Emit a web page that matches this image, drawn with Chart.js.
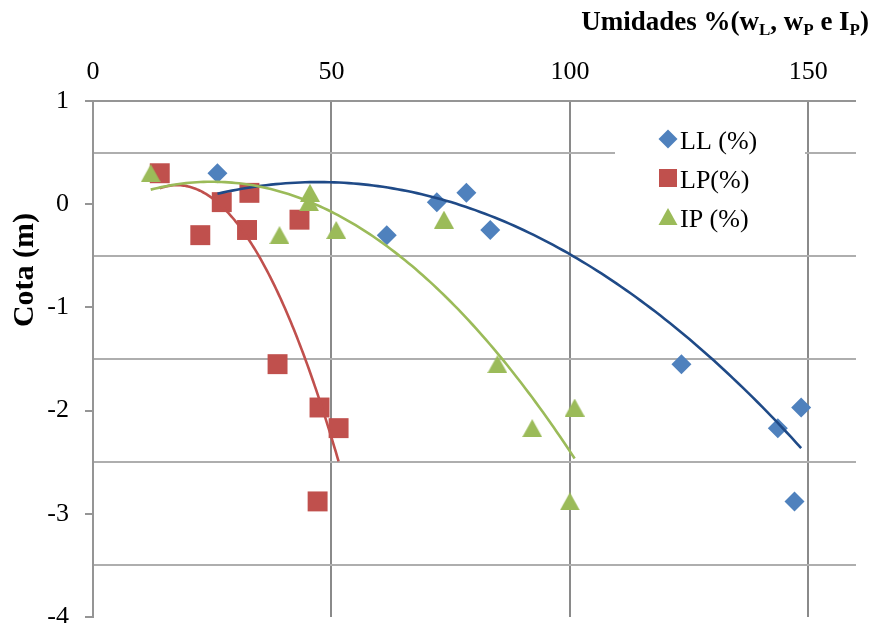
<!DOCTYPE html>
<html>
<head>
<meta charset="utf-8">
<script src="https://cdn.jsdelivr.net/npm/chart.js@4.4.1/dist/chart.umd.min.js"></script>
<style>
  html, body { margin: 0; padding: 0; background: #ffffff; }
  canvas { display: block; }
</style>
</head>
<body>
<canvas id="chart" width="874" height="623"></canvas>
<script>
// Sample depths (m) and the three consistency indices (%) measured at each depth
const depths   = [0.30, 0.11, 0.02, -0.15, -0.25, -0.30, -1.55, -1.97, -2.17, -2.88];
const llValues = [26.1, 78.3, 72.1, 116.9, 83.3, 61.6, 123.4, 148.5, 143.6, 147.1];
const lpValues = [14.0, 32.8, 27.0, 43.3, 32.3, 22.5, 38.7, 47.5, 51.5, 47.1];
const ipValues = [12.1, 45.5, 45.3, 73.6, 51.0, 39.1, 84.8, 101.0, 92.1, 100.0];

const seriesNames = ['LL (%)', 'LP(%)', 'IP (%)'];
const xTickValues = [0, 50, 100, 150];
const yLabelValues = [1, 0, -1, -2, -3, -4];

const FONT = "'Liberation Serif', 'Times New Roman', Times, serif";
const markerColors = ['#4F81BD', '#C0504D', '#9BBB59'];
const trendColors  = ['#1F4A87', '#C0504D', '#9BBB59'];
const hGridGray = '#AEAEAE';
const vGridGray = '#8A8A8A';
const axisGray  = '#959595';
const clear = 'rgba(0,0,0,0)';

Chart.defaults.font.family = FONT;
Chart.defaults.color = '#000000';

// Triangle marker centred on its bounding box
function triangleImage(w, h, color) {
  const c = document.createElement('canvas');
  c.width = w; c.height = h;
  const g = c.getContext('2d');
  g.fillStyle = color;
  g.beginPath();
  g.moveTo(w / 2, 0);
  g.lineTo(w, h);
  g.lineTo(0, h);
  g.closePath();
  g.fill();
  return c;
}

// Second-order least-squares fit y = a + b·x + c·x²
function quadFit(xs, ys) {
  const S = [0, 0, 0, 0, 0], T = [0, 0, 0];
  for (let i = 0; i < xs.length; i++) {
    let p = 1;
    for (let k = 0; k <= 4; k++) {
      S[k] += p;
      if (k <= 2) T[k] += ys[i] * p;
      p *= xs[i];
    }
  }
  const M = [
    [S[0], S[1], S[2], T[0]],
    [S[1], S[2], S[3], T[1]],
    [S[2], S[3], S[4], T[2]]
  ];
  for (let col = 0; col < 3; col++) {
    let piv = col;
    for (let r = col + 1; r < 3; r++) if (Math.abs(M[r][col]) > Math.abs(M[piv][col])) piv = r;
    [M[col], M[piv]] = [M[piv], M[col]];
    for (let r = 0; r < 3; r++) {
      if (r === col) continue;
      const f = M[r][col] / M[col][col];
      for (let k = col; k < 4; k++) M[r][k] -= f * M[col][k];
    }
  }
  return [M[0][3] / M[0][0], M[1][3] / M[1][1], M[2][3] / M[2][2]];
}

function trendPoints(xs, ys) {
  const [a, b, c] = quadFit(xs, ys);
  const lo = Math.min(...xs), hi = Math.max(...xs);
  const pts = [];
  const n = 120;
  for (let i = 0; i <= n; i++) {
    const x = lo + (hi - lo) * i / n;
    pts.push({ x, y: a + b * x + c * x * x });
  }
  return pts;
}

const toPoints = xs => xs.map((x, i) => ({ x, y: depths[i] }));
const allValues = [llValues, lpValues, ipValues];
const triMarker = triangleImage(20, 18, markerColors[2]);

const datasets = [
  { label: seriesNames[0], data: toPoints(llValues), pointStyle: 'rectRot', pointRadius: 10,
    backgroundColor: markerColors[0], borderWidth: 0, order: 5 },
  { label: seriesNames[1], data: toPoints(lpValues), pointStyle: 'rect', pointRadius: 14.1,
    backgroundColor: markerColors[1], borderWidth: 0, order: 4 },
  { label: seriesNames[2], data: toPoints(ipValues), pointStyle: triMarker, pointRadius: 10,
    backgroundColor: markerColors[2], borderWidth: 0, order: 3 }
];
allValues.forEach((vals, i) => {
  datasets.push({
    label: 'trend ' + seriesNames[i],
    data: trendPoints(vals, depths),
    showLine: true, pointRadius: 0, borderColor: trendColors[i], borderWidth: 2.6,
    fill: false, tension: 0, order: 2 - i
  });
});

// Axis titles and the in-plot legend box
const chartText = {
  id: 'chartText',
  afterDatasetsDraw(chart) {
    const ctx = chart.ctx;
    ctx.save();
    ctx.fillStyle = '#ffffff';
    ctx.fillRect(615, 116, 190, 122);
    const rows = [139, 178, 217];
    const mx = 668;
    rows.forEach((cy, i) => {
      ctx.fillStyle = markerColors[i];
      ctx.beginPath();
      if (i === 0) {
        ctx.moveTo(mx, cy - 9.5); ctx.lineTo(mx + 9.5, cy); ctx.lineTo(mx, cy + 9.5); ctx.lineTo(mx - 9.5, cy);
      } else if (i === 1) {
        ctx.rect(mx - 9, cy - 9, 18, 18);
      } else {
        ctx.moveTo(mx, cy - 9); ctx.lineTo(mx + 9.5, cy + 8); ctx.lineTo(mx - 9.5, cy + 8);
      }
      ctx.closePath();
      ctx.fill();
      ctx.fillStyle = '#000000';
      ctx.font = '26px ' + FONT;
      ctx.textAlign = 'left';
      ctx.textBaseline = 'alphabetic';
      ctx.fillText(seriesNames[i], 680, cy + 10);
    });
    ctx.restore();
  },
  afterDraw(chart) {
    const ctx = chart.ctx;
    ctx.save();
    ctx.fillStyle = '#000000';
    ctx.textBaseline = 'alphabetic';
    ctx.textAlign = 'left';
    // top axis title with subscripts
    const parts = [['Umidades %(w', 0], ['L', 1], [', w', 0], ['P', 1], [' e I', 0], ['P', 1], [')', 0]];
    const mainFont = 'bold 27px ' + FONT, subFont = 'bold 17px ' + FONT;
    let total = 0;
    parts.forEach(([t, s]) => { ctx.font = s ? subFont : mainFont; total += ctx.measureText(t).width; });
    let x = 869 - total;
    parts.forEach(([t, s]) => {
      ctx.font = s ? subFont : mainFont;
      ctx.fillText(t, x, s ? 34.5 : 29.5);
      x += ctx.measureText(t).width;
    });
    // left axis title
    ctx.translate(33, 270);
    ctx.rotate(-Math.PI / 2);
    ctx.textAlign = 'center';
    ctx.font = 'bold 30px ' + FONT;
    ctx.fillText('Cota (m)', 0, 0);
    ctx.restore();
  }
};

new Chart(document.getElementById('chart'), {
  type: 'scatter',
  data: { datasets },
  options: {
    responsive: false,
    animation: false,
    devicePixelRatio: 1,
    layout: { autoPadding: false, padding: { left: 0, top: 0, right: 18, bottom: 6 } },
    plugins: { legend: { display: false }, tooltip: { enabled: false }, title: { display: false } },
    scales: {
      x: {
        type: 'linear', position: 'top', min: 0, max: 160,
        afterFit: s => { s.height = 101; s.paddingLeft = 0; s.paddingRight = 0; },
        afterBuildTicks: s => { s.ticks = xTickValues.map(v => ({ value: v })); },
        border: { display: false },
        grid: {
          drawTicks: false,
          color: c => (c.tick && c.tick.value === 0) ? clear : vGridGray,
          lineWidth: 2
        },
        ticks: {
          padding: 13, autoSkip: false, maxRotation: 0, color: '#000000',
          font: { size: 26 }, callback: v => String(v)
        }
      },
      y: {
        type: 'linear', min: -4, max: 1,
        afterFit: s => { s.width = 93; s.paddingTop = 0; s.paddingBottom = 0; },
        border: { display: true, color: axisGray, width: 2 },
        grid: {
          drawTicks: true, tickLength: 8,
          color: c => {
            const v = c.tick ? c.tick.value : 0;
            if (v === 1) return axisGray;
            return Number.isInteger(v) ? clear : hGridGray;
          },
          tickColor: c => (c.tick && yLabelValues.includes(c.tick.value)) ? axisGray : clear,
          lineWidth: 2, tickWidth: 2
        },
        ticks: {
          stepSize: 0.5, autoSkip: false, padding: 16, color: '#000000',
          font: { size: 26 },
          callback: v => yLabelValues.includes(v) ? String(v) : ''
        }
      }
    }
  },
  plugins: [chartText]
});
</script>
</body>
</html>
